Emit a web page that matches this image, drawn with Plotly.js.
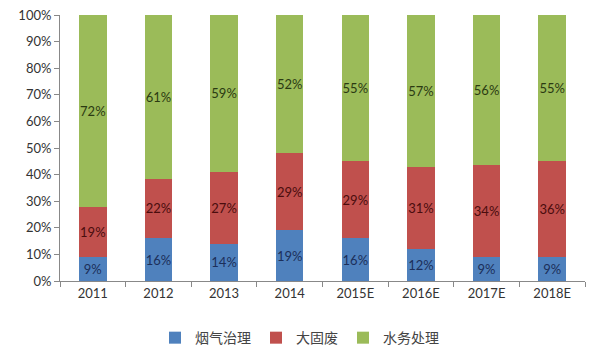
<!DOCTYPE html>
<html><head><meta charset="utf-8">
<script src="https://cdn.plot.ly/plotly-3.0.1.min.js"></script>
<style>html,body{margin:0;padding:0;background:#fff}#c{width:599px;height:354px}</style>
</head><body><div id="c"></div>
<script>
const years = ['2011','2012','2013','2014','2015E','2016E','2017E','2018E'];
const seriesNames = ['烟气治理','大固废','水务处理'];
const fluegas = [9,16,14,19,16,12,9,9];
const solidwaste = [19,22,27,29,29,31,34,36];
const water = [72,61,59,52,55,57,56,55];
const yTicks = [0,10,20,30,40,50,60,70,80,90,100];

const colors = ['#4F81BD','#C0504D','#9BBB59'];
const txtColors = ['#1c2f5a','#4a0d0d','#2b3a12'];
const vals = [fluegas, solidwaste, water];
const font = '"Lato","Noto Sans CJK SC",sans-serif';

const traces = vals.map((v,i)=>({
  type:'bar', x:years, y:v, name:seriesNames[i],
  marker:{color:colors[i], line:{width:0}},
  text:v.map(n=>n+'%'), textposition:'inside', insidetextanchor:'middle',
  textfont:{color:txtColors[i], size:13, family:font},
  textangle:0, constraintext:'none', hoverinfo:'none'
}));

const layout = {
  width:599, height:354, barmode:'stack', barnorm:'percent', bargap:0.58,
  margin:{l:60,r:14,t:15,b:73},
  paper_bgcolor:'#fff', plot_bgcolor:'#fff',
  font:{family:font, color:'#333', size:13},
  xaxis:{type:'category', showline:true, linecolor:'#888', linewidth:1,
    ticks:'outside', tickson:'boundaries', ticklen:5, tickcolor:'#888',
    tickfont:{size:13, color:'#333'}, showgrid:false},
  yaxis:{range:[0,100], tickvals:yTicks, ticktext:yTicks.map(t=>t+'%'),
    showline:true, linecolor:'#888', linewidth:1, ticks:'outside', ticklen:5,
    tickcolor:'#888', showgrid:false, zeroline:false,
    tickfont:{size:13, color:'#333'}},
  showlegend:true,
  legend:{orientation:'h', xref:'container', yref:'container', x:0.5, xanchor:'center',
    y:0.045, yanchor:'middle', font:{size:14, color:'#444', family:'"Noto Sans CJK SC",sans-serif'},
    itemwidth:30, traceorder:'normal'}
};
Plotly.newPlot('c', traces, layout, {displayModeBar:false, staticPlot:true});
</script></body></html>
